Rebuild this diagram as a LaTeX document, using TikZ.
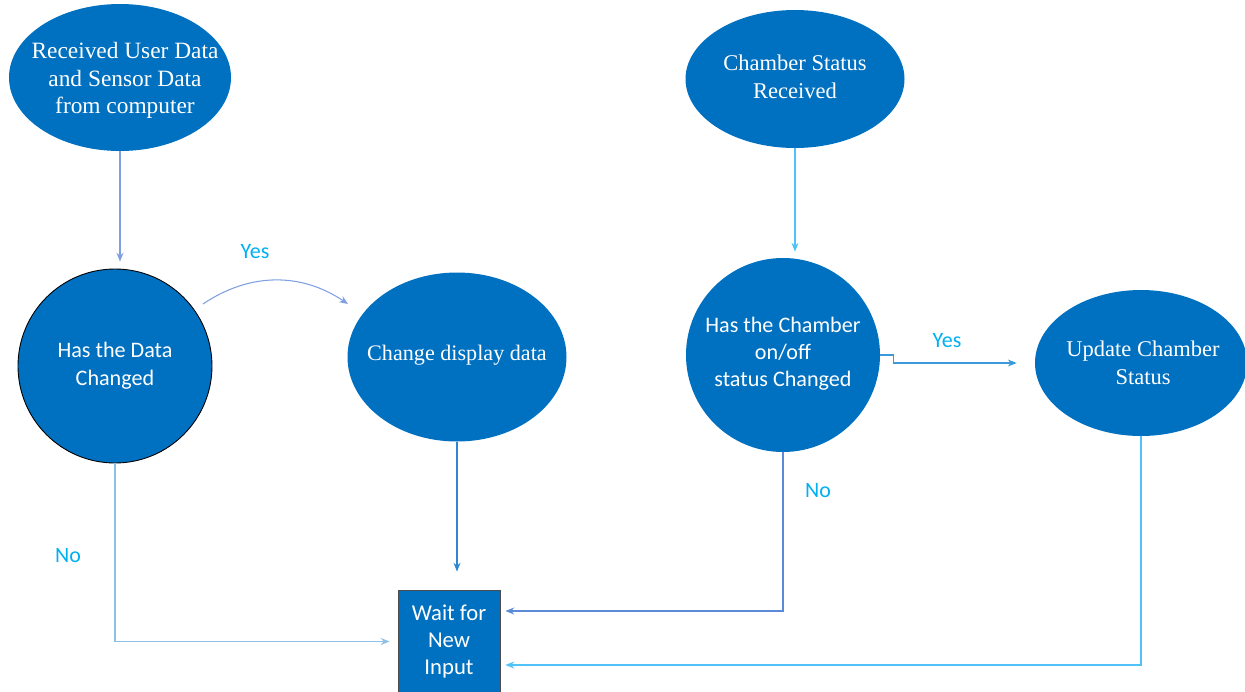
\documentclass[tikz,border=0pt]{standalone}
\usepackage{fontspec}
\setmainfont{Liberation Serif}
\newfontfamily\calib{Carlito}
\usetikzlibrary{shapes.geometric,arrows.meta,calc}

\definecolor{boxblue}{HTML}{0070C0}
\definecolor{lblblue}{HTML}{00B0F0}
\definecolor{lnA}{HTML}{7F9FE0}
\definecolor{lnB}{HTML}{2E86D0}
\definecolor{lnC}{HTML}{8FC0E6}
\definecolor{lnD}{HTML}{4FC3F7}
\definecolor{lnE}{HTML}{3A9AD9}
\definecolor{lnF}{HTML}{5B8BD8}

\tikzset{
  oval/.style={ellipse, fill=boxblue, draw=none, inner sep=0pt},
  disc/.style={circle, fill=boxblue, inner sep=0pt, minimum size=3.88cm},
  serifTxt/.style={text=white, align=center, font=\fontsize{12.8}{15.6}\selectfont},
  sansTxt/.style={text=white, align=center, font=\calib\fontsize{12.6}{15.8}\selectfont},
  branch/.style={text=lblblue, font=\calib\fontsize{12.5}{15}\selectfont},
  conn/.style={line width=0.6pt, -{Stealth[length=5pt,width=4pt]}},
}

\begin{document}
\begin{tikzpicture}
\useasboundingbox (0,0) rectangle (24.9,-13.82);

% shapes
\node[oval, minimum width=4.44cm, minimum height=2.94cm] (recv) at (2.40,-1.55) {};
\node[disc, draw=black, line width=0.5pt] (dchg) at (2.30,-7.32) {};
\node[oval, minimum width=4.38cm, minimum height=3.38cm] (disp) at (9.14,-7.14) {};
\node[oval, minimum width=4.38cm, minimum height=2.76cm] (csr) at (15.90,-1.58) {};
\node[disc] (cchg) at (15.66,-7.10) {};
\node[oval, minimum width=4.24cm, minimum height=2.92cm] (upd) at (22.82,-7.26) {};
\node[rectangle, fill=boxblue, draw=black!70, line width=0.5pt, minimum width=2.04cm, minimum height=2.06cm, inner sep=0pt] (wait) at (8.98,-12.83) {};

% texts
\node[serifTxt, font=\fontsize{13.3}{15.6}\selectfont] (recvT) at ($(recv.center)+(0.1,-0.06)$) {Received User Data\\and Sensor Data\\from computer};
\node[sansTxt] (dchgT) at (dchg.center) {Has the Data\\Changed};
\node[serifTxt, font=\fontsize{12.6}{15}\selectfont] (dispT) at ($(disp.center)+(0,0.04)$) {Change display data};
\node[serifTxt] (csrT) at ($(csr.center)+(0,0.04)$) {Chamber Status\\Received};
\node[sansTxt, font=\calib\fontsize{12.6}{15.4}\selectfont] (cchgT) at ($(cchg.center)+(0,0.02)$) {Has the Chamber\\on/off\\status Changed};
\node[serifTxt] (updT) at ($(upd.center)+(0.04,0)$) {Update Chamber\\Status};
\node[sansTxt, font=\calib\fontsize{12.9}{15.6}\selectfont] (waitT) at (wait.center) {Wait for\\New\\Input};

% branch labels
\node[branch] (yes1) at (5.10,-5.04) {Yes};
\node[branch] (no1) at (1.36,-11.12) {No};
\node[branch] (yes2) at (18.94,-6.82) {Yes};
\node[branch] (no2) at (16.36,-9.82) {No};

% connector end points
\coordinate (yesA) at (4.06,-6.08);
\coordinate (yesB) at (6.96,-6.08);
\coordinate (noIn) at ($(wait.east)+(0.1,0.61)$);
\coordinate (updIn) at ($(wait.east)+(0.1,-0.47)$);

% connectors
\draw[conn, lnA] (recv.south) -- ([yshift=0.14cm]recv.south |- dchg.north);
\draw[conn, lnA] (yesA) to[bend left=34] (yesB);
\draw[conn, lnB] (disp.south) -- ([yshift=0.36cm]disp.south |- wait.north);
\draw[conn, lnC, line width=1.1pt] (dchg.south) |- ([xshift=-0.16cm]wait.west);
\draw[conn, lnD] (csr.south) -- ([yshift=0.12cm]csr.south |- cchg.north);
\draw[conn, lnE] (cchg.east) -- ++(0.26,0) |- ([xshift=-0.36cm]upd.west);
\draw[conn, lnF] (cchg.south) |- (noIn);
\draw[conn, lnD, line width=0.9pt] (upd.south) |- (updIn);
\end{tikzpicture}
\end{document}
